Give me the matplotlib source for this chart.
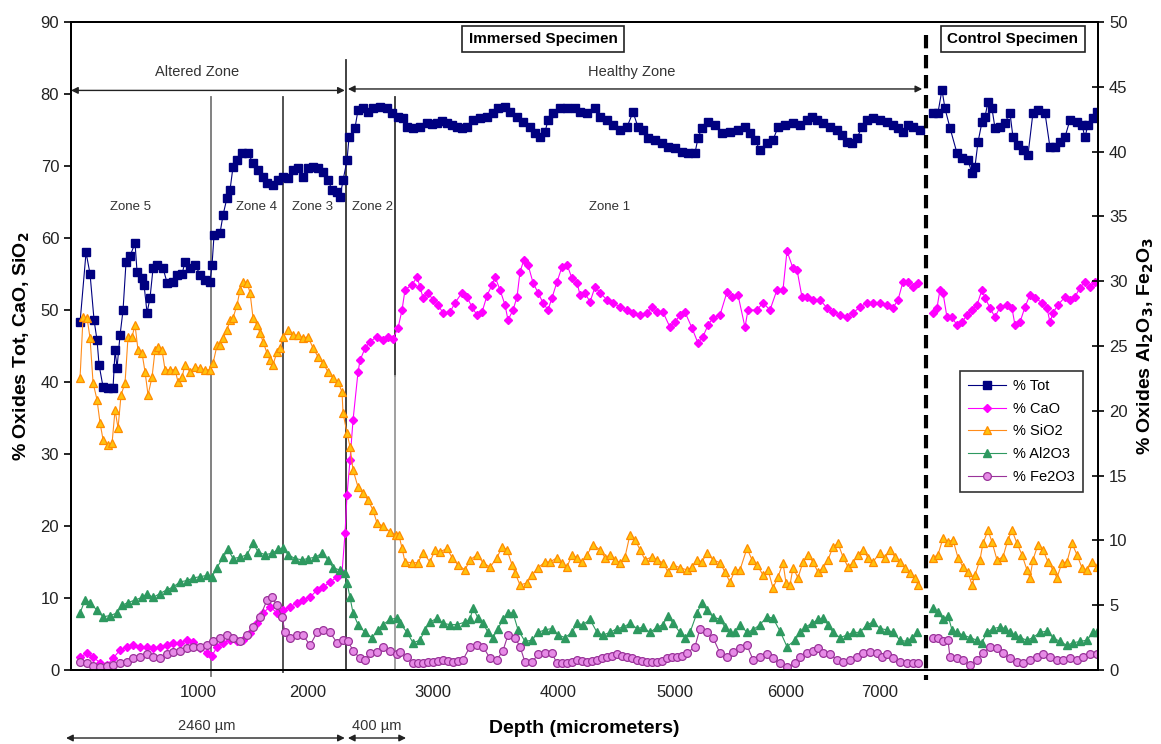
import numpy as np
import matplotlib
matplotlib.use("Agg")
import matplotlib.pyplot as plt

plt.rcParams['font.family'] = ['Liberation Sans', 'DejaVu Sans']

# ---------------- Immersed specimen (depth in micrometres) ----------------
tot_depth = [72, 120, 152, 184, 208, 224, 256, 296, 336, 352, 368, 392, 416, 440, 472, 512, 528, 568, 584, 608,
             632, 656, 688, 736, 768, 816, 848, 888, 912, 952, 992, 1032, 1072, 1112, 1128, 1144, 1192, 1216, 1248, 1272,
             1296, 1328, 1368, 1416, 1456, 1496, 1536, 1568, 1616, 1656, 1696, 1736, 1776, 1816, 1856, 1896, 1936, 1976, 2016, 2056,
             2088, 2128, 2152, 2176, 2208, 2224, 2272, 2296, 2336, 2376, 2416, 2472, 2528, 2568, 2616, 2656, 2688, 2736, 2792, 2848,
             2888, 2928, 2968, 3008, 3048, 3088, 3128, 3168, 3216, 3272, 3328, 3376, 3416, 3472, 3512, 3568, 3616, 3672, 3712, 3752,
             3792, 3816, 3856, 3912, 3968, 4032, 4072, 4128, 4192, 4232, 4288, 4336, 4392, 4448, 4496, 4536, 4576, 4616, 4672, 4728,
             4776, 4832, 4888, 4936, 4992, 5016, 5048, 5096, 5152, 5208, 5272, 5336, 5392, 5432, 5472, 5512, 5568, 5616, 5656, 5712,
             5776, 5832, 5888, 5928, 5968, 6016, 6072, 6128, 6168, 6208, 6248, 6288, 6328, 6368, 6416, 6472, 6528, 6576, 6616, 6656,
             6696, 6736, 6792]
tot_pct = [48.3, 58.0, 55.0, 48.6, 45.8, 42.4, 39.3, 39.2, 39.2, 44.4, 42.0, 46.5, 50.0, 56.7, 57.5, 59.3, 55.3, 54.4, 53.5, 49.6,
           51.7, 55.8, 56.3, 55.8, 53.8, 53.9, 54.9, 55.0, 56.7, 55.8, 56.3, 54.9, 54.2, 53.9, 56.3, 60.4, 60.7, 63.2, 65.6, 66.7,
           69.9, 70.8, 71.8, 71.8, 70.4, 69.4, 68.5, 67.6, 67.4, 68.0, 68.5, 68.3, 69.4, 69.7, 68.5, 69.7, 69.9, 69.7, 69.2, 68.0,
           66.7, 66.4, 65.7, 68.0, 70.8, 74.0, 75.3, 77.8, 78.0, 77.5, 78.0, 78.2, 78.0, 77.4, 76.8, 76.7, 75.4, 75.3, 75.4, 76.0,
           75.8, 76.0, 76.2, 76.0, 75.7, 75.4, 75.3, 75.4, 76.4, 76.7, 76.8, 77.4, 78.0, 78.2, 77.5, 76.8, 76.1, 75.4, 74.6, 74.0,
           74.7, 76.4, 77.4, 78.0, 78.0, 78.0, 77.5, 77.4, 78.0, 76.8, 76.4, 75.7, 75.0, 75.4, 77.5, 75.4, 75.0, 73.9, 73.6, 73.2,
           72.6, 72.5, 71.9, 71.8, 71.8, 73.9, 75.3, 76.1, 75.7, 74.6, 74.7, 75.0, 75.4, 74.6, 73.6, 72.2, 73.2, 73.6, 75.4, 75.7,
           76.0, 75.7, 76.4, 76.8, 76.4, 76.0, 75.4, 75.0, 74.3, 73.3, 73.2, 73.9, 75.4, 76.4, 76.7, 76.4, 76.1, 75.7, 75.3, 74.7,
           75.7, 75.4, 75.0]

cao_depth = [72, 128, 176, 232, 288, 336, 392, 448, 496, 552, 608, 656, 712, 768, 816, 872, 928, 976, 1032, 1088,
             1128, 1168, 1216, 1272, 1328, 1376, 1432, 1488, 1536, 1592, 1648, 1696, 1752, 1808, 1856, 1912, 1968, 2016, 2072, 2128,
             2168, 2192, 2208, 2232, 2256, 2296, 2312, 2352, 2392, 2448, 2496, 2536, 2576, 2616, 2648, 2672, 2728, 2768, 2792, 2816,
             2856, 2896, 2936, 2976, 3032, 3072, 3128, 3168, 3208, 3248, 3288, 3328, 3368, 3392, 3432, 3472, 3496, 3536, 3568, 3592,
             3624, 3656, 3696, 3736, 3776, 3816, 3848, 3888, 3928, 3968, 4008, 4048, 4072, 4112, 4152, 4192, 4232, 4288, 4336, 4392,
             4448, 4496, 4552, 4608, 4648, 4688, 4736, 4792, 4832, 4872, 4912, 4968, 5016, 5056, 5096, 5136, 5192, 5248, 5288, 5336,
             5392, 5416, 5488, 5536, 5592, 5648, 5696, 5728, 5776, 5808, 5848, 5888, 5936, 5992, 6048, 6096, 6152, 6208, 6256, 6312,
             6368, 6416, 6472, 6528, 6576, 6616, 6656, 6696, 6736, 6776]
cao_pct = [1.8, 2.3, 1.8, 1.0, 0.7, 1.6, 2.8, 3.2, 3.5, 3.2, 3.2, 3.0, 3.2, 3.5, 3.7, 3.7, 4.2, 3.9, 3.1, 2.3,
           2.0, 3.2, 3.7, 4.2, 4.0, 4.2, 5.1, 6.5, 7.9, 8.8, 7.9, 8.3, 8.8, 9.3, 9.7, 10.1, 11.1, 11.5, 12.2, 12.9,
           13.5, 19.0, 24.3, 29.2, 34.7, 41.4, 43.0, 44.7, 45.6, 46.3, 45.8, 46.3, 46.0, 47.5, 50.0, 52.8, 53.5, 54.6, 53.2, 51.7,
           52.4, 51.4, 50.7, 49.6, 49.7, 51.0, 52.4, 51.8, 50.4, 49.3, 49.7, 52.0, 53.5, 54.6, 52.8, 50.7, 48.6, 50.0, 51.8, 55.3,
           57.0, 56.3, 53.8, 52.4, 51.0, 50.0, 51.7, 53.9, 56.0, 56.3, 54.4, 53.8, 52.1, 52.4, 51.1, 53.2, 52.4, 51.4, 51.0, 50.4,
           50.0, 49.6, 49.3, 49.6, 50.4, 49.7, 49.7, 47.6, 48.3, 49.3, 49.7, 47.5, 45.4, 46.3, 47.9, 48.9, 49.3, 52.5, 51.8, 52.1,
           47.6, 50.0, 50.0, 51.0, 50.0, 52.8, 52.8, 58.2, 55.8, 55.6, 51.8, 51.8, 51.4, 51.4, 50.3, 49.7, 49.3, 49.0, 49.6, 50.4,
           51.0, 51.0, 51.0, 50.7, 50.3, 51.4, 53.9, 53.9, 53.2, 53.8]

sio2_depth = [72, 96, 128, 152, 176, 208, 232, 256, 296, 328, 352, 376, 400, 432, 456, 488, 512, 536, 568, 592,
              616, 648, 672, 696, 728, 752, 792, 832, 856, 888, 912, 952, 992, 1032, 1072, 1112, 1136, 1168, 1192, 1216,
              1248, 1272, 1296, 1328, 1352, 1376, 1408, 1432, 1456, 1488, 1512, 1536, 1568, 1592, 1616, 1648, 1672, 1696, 1736, 1776,
              1816, 1856, 1896, 1936, 1976, 2016, 2056, 2096, 2136, 2168, 2176, 2208, 2232, 2256, 2296, 2336, 2376, 2416, 2448, 2496,
              2552, 2600, 2624, 2648, 2672, 2728, 2776, 2816, 2872, 2912, 2952, 3008, 3048, 3096, 3152, 3192, 3248, 3296, 3352, 3408,
              3448, 3488, 3528, 3552, 3592, 3648, 3688, 3736, 3792, 3832, 3888, 3928, 3968, 4008, 4048, 4088, 4128, 4176, 4232, 4272,
              4312, 4352, 4392, 4432, 4472, 4512, 4552, 4592, 4648, 4688, 4736, 4776, 4816, 4872, 4928, 4968, 5008, 5048, 5088, 5136,
              5192, 5232, 5272, 5312, 5352, 5408, 5448, 5488, 5536, 5576, 5616, 5656, 5696, 5720, 5752, 5776, 5816, 5856, 5896, 5936,
              5976, 6016, 6056, 6096, 6136, 6176, 6216, 6256, 6296, 6336, 6376, 6416, 6472, 6512, 6552, 6592, 6632, 6672, 6712, 6752,
              6776]
sio2_pct = [40.6, 49.0, 48.9, 46.1, 39.9, 37.5, 34.3, 32.0, 31.3, 31.5, 36.1, 33.6, 38.2, 39.9, 46.3, 46.3, 47.9, 44.4, 44.0, 41.4,
            38.2, 40.7, 44.4, 44.9, 44.4, 41.7, 41.7, 41.7, 40.0, 40.7, 42.4, 41.4, 42.1, 41.9, 41.7, 41.7, 42.6, 45.1, 45.1, 46.1,
            47.2, 48.6, 48.9, 50.7, 52.8, 53.9, 53.8, 52.4, 48.9, 47.9, 46.8, 45.6, 44.0, 43.0, 42.4, 44.2, 44.7, 46.3, 47.2, 46.5,
            46.5, 46.1, 46.3, 44.7, 43.5, 42.6, 41.4, 40.6, 40.0, 38.6, 35.7, 32.9, 31.0, 27.8, 25.4, 24.6, 23.6, 22.2, 20.4, 20.0,
            19.2, 18.8, 18.7, 16.9, 15.0, 14.9, 14.9, 16.3, 15.0, 16.7, 16.4, 16.9, 15.6, 14.6, 13.9, 15.3, 16.0, 14.9, 14.3, 15.6,
            17.1, 16.7, 14.6, 13.5, 11.8, 12.1, 13.2, 14.2, 15.0, 15.0, 15.6, 14.9, 14.3, 16.0, 15.6, 15.0, 16.0, 17.4, 16.7, 15.6,
            16.0, 15.3, 14.9, 15.7, 18.8, 18.1, 16.7, 15.3, 15.7, 15.3, 14.9, 13.6, 14.6, 14.2, 13.9, 14.3, 15.3, 15.0, 16.3, 15.3,
            14.9, 13.6, 12.2, 13.9, 13.9, 16.9, 15.3, 14.6, 13.2, 13.9, 11.4, 12.9, 14.9, 12.1, 11.8, 14.2, 12.8, 15.0, 16.0, 15.0,
            13.6, 14.2, 15.3, 17.1, 17.6, 15.7, 14.3, 14.9, 16.0, 16.7, 15.6, 15.0, 16.3, 15.6, 16.7, 15.7, 15.0, 14.2, 13.5, 12.8,
            11.8]

al2o3_depth = [72, 112, 152, 208, 256, 312, 368, 408, 456, 512, 568, 608, 656, 712, 768, 816, 872, 928, 976, 1032,
               1088, 1128, 1168, 1216, 1256, 1296, 1352, 1408, 1456, 1496, 1552, 1608, 1656, 1696, 1736, 1792, 1848, 1896, 1952, 2008,
               2056, 2096, 2152, 2192, 2208, 2232, 2256, 2296, 2352, 2408, 2456, 2496, 2552, 2608, 2632, 2688, 2736, 2792, 2832, 2872,
               2928, 2976, 3032, 3088, 3152, 3192, 3216, 3256, 3296, 3336, 3376, 3416, 3456, 3496, 3536, 3576, 3632, 3688, 3736, 3792,
               3848, 3896, 3952, 4008, 4048, 4096, 4152, 4208, 4256, 4312, 4368, 4416, 4472, 4528, 4576, 4632, 4688, 4736, 4776, 4816,
               4872, 4912, 4952, 5008, 5048, 5088, 5136, 5192, 5232, 5272, 5312, 5352, 5408, 5456, 5512, 5568, 5616, 5672, 5728, 5792,
               5832, 5872, 5928, 5976, 6016, 6056, 6096, 6152, 6208, 6256, 6312, 6368, 6416, 6472, 6528, 6576, 6632, 6688, 6728, 6768]
al2o3_pct = [4.4, 5.4, 5.2, 4.6, 4.1, 4.2, 4.4, 5.0, 5.2, 5.4, 5.6, 5.9, 5.6, 5.9, 6.2, 6.4, 6.8, 6.9, 7.1, 7.2,
             7.3, 7.2, 7.9, 8.7, 9.3, 8.6, 8.7, 8.9, 9.8, 9.1, 8.9, 9.0, 9.3, 9.4, 8.9, 8.6, 8.5, 8.6, 8.7, 9.0,
             8.5, 7.9, 7.7, 7.5, 6.7, 5.6, 4.4, 3.5, 2.9, 2.5, 3.1, 3.5, 3.9, 4.0, 3.6, 2.9, 2.1, 2.3, 3.1, 3.7,
             4.0, 3.6, 3.5, 3.5, 3.7, 3.9, 4.8, 4.0, 3.6, 2.9, 2.5, 3.2, 3.9, 4.4, 4.4, 3.1, 2.2, 2.3, 2.9, 3.1,
             3.2, 2.7, 2.5, 2.9, 3.6, 3.5, 3.9, 2.9, 2.7, 2.9, 3.2, 3.3, 3.6, 3.2, 3.3, 2.9, 3.3, 3.5, 4.2, 3.6,
             2.9, 2.5, 2.9, 4.4, 5.2, 4.6, 4.1, 3.9, 3.3, 2.9, 2.9, 3.5, 2.9, 3.1, 3.5, 4.1, 4.0, 3.0, 1.8, 2.3,
             2.9, 3.3, 3.6, 3.9, 4.0, 3.5, 2.9, 2.5, 2.7, 2.9, 2.9, 3.5, 3.7, 3.2, 3.1, 2.9, 2.3, 2.2, 2.5, 2.9]

fe2o3_depth = [72, 128, 176, 232, 288, 336, 392, 448, 496, 552, 608, 656, 712, 768, 816, 872, 928, 976, 1032, 1088,
               1136, 1192, 1248, 1296, 1352, 1408, 1456, 1512, 1568, 1608, 1648, 1688, 1712, 1752, 1808, 1856, 1912, 1968, 2016, 2072,
               2128, 2176, 2216, 2256, 2312, 2352, 2392, 2448, 2496, 2552, 2608, 2632, 2688, 2736, 2776, 2816, 2856, 2896, 2936, 2976,
               3016, 3056, 3096, 3136, 3192, 3248, 3296, 3352, 3408, 3456, 3496, 3552, 3592, 3632, 3688, 3736, 3792, 3848, 3888, 3928,
               3968, 4008, 4048, 4088, 4128, 4168, 4208, 4248, 4288, 4328, 4368, 4408, 4448, 4488, 4528, 4568, 4608, 4648, 4688, 4728,
               4768, 4808, 4848, 4888, 4928, 4992, 5032, 5088, 5136, 5192, 5248, 5296, 5352, 5408, 5456, 5512, 5568, 5616, 5672, 5728,
               5792, 5832, 5888, 5936, 5976, 6016, 6072, 6128, 6176, 6232, 6288, 6336, 6392, 6448, 6488, 6528, 6576, 6632, 6688, 6736,
               6776]
fe2o3_pct = [0.6, 0.5, 0.3, 0.2, 0.3, 0.4, 0.5, 0.6, 0.9, 1.0, 1.2, 1.0, 0.9, 1.2, 1.4, 1.5, 1.7, 1.8, 1.8, 1.9,
             2.2, 2.5, 2.7, 2.5, 2.2, 2.7, 3.3, 4.1, 5.4, 5.6, 5.0, 4.1, 2.9, 2.5, 2.7, 2.7, 1.9, 2.9, 3.1, 2.9,
             2.1, 2.3, 2.2, 1.5, 0.9, 0.8, 1.3, 1.4, 1.8, 1.5, 1.2, 1.4, 1.0, 0.5, 0.5, 0.5, 0.6, 0.6, 0.7, 0.8,
             0.7, 0.6, 0.7, 0.8, 1.8, 1.9, 1.8, 0.9, 0.8, 1.5, 2.7, 2.5, 1.8, 0.6, 0.6, 1.2, 1.3, 1.3, 0.5, 0.5,
             0.5, 0.6, 0.8, 0.7, 0.6, 0.7, 0.8, 0.9, 1.0, 1.1, 1.2, 1.1, 1.0, 0.9, 0.8, 0.7, 0.6, 0.6, 0.6, 0.7,
             0.9, 1.0, 1.0, 1.1, 1.3, 1.8, 3.2, 2.9, 2.5, 1.3, 1.0, 1.4, 1.7, 1.9, 0.8, 1.0, 1.2, 0.9, 0.5, 0.2,
             0.5, 1.0, 1.3, 1.5, 1.7, 1.3, 1.2, 0.8, 0.6, 0.8, 1.0, 1.3, 1.4, 1.3, 1.0, 1.2, 0.9, 0.6, 0.5, 0.5,
             0.5]

# ---------------- Control specimen ----------------
ctl_tot_depth = [6896, 6936, 6968, 6992, 7032, 7088, 7128, 7176, 7208, 7232, 7256, 7288, 7312, 7336, 7368, 7392, 7432, 7472, 7512, 7536,
                 7576, 7616, 7656, 7696, 7736, 7792, 7832, 7872, 7912, 7952, 7992, 8048, 8088, 8112, 8136, 8176, 8208]
ctl_tot_pct = [77.4, 77.4, 80.6, 78.0, 75.3, 71.8, 71.1, 70.8, 69.0, 69.9, 73.3, 76.1, 76.8, 78.9, 78.0, 75.3, 75.4, 76.0, 77.4, 74.0,
               72.9, 72.2, 71.5, 77.4, 77.8, 77.4, 72.6, 72.6, 73.3, 74.0, 76.4, 76.1, 75.7, 74.0, 75.7, 76.7, 77.5]

ctl_cao_depth = [6896, 6928, 6952, 6976, 7008, 7048, 7088, 7128, 7168, 7208, 7248, 7288, 7312, 7352, 7392, 7432, 7488, 7528, 7552, 7592,
                 7632, 7672, 7712, 7768, 7808, 7832, 7856, 7896, 7952, 7992, 8032, 8072, 8112, 8152, 8192]
ctl_cao_pct = [49.6, 50.3, 52.8, 52.4, 49.0, 49.0, 47.9, 48.3, 49.3, 50.0, 50.7, 52.8, 51.7, 50.3, 49.0, 50.4, 50.7, 50.3, 47.9, 48.3,
               50.4, 52.1, 51.7, 51.0, 50.3, 48.3, 49.6, 50.7, 51.8, 51.4, 51.8, 53.1, 53.9, 53.2, 53.9]

ctl_sio2_depth = [6896, 6936, 6976, 7016, 7056, 7096, 7136, 7176, 7208, 7232, 7272, 7296, 7336, 7368, 7408, 7456, 7496, 7528, 7568, 7608,
                  7648, 7672, 7696, 7736, 7776, 7816, 7856, 7888, 7928, 7968, 8008, 8048, 8088, 8128, 8168, 8208]
ctl_sio2_pct = [15.6, 16.0, 18.3, 17.8, 18.1, 15.6, 14.3, 13.6, 11.8, 13.2, 15.3, 17.6, 19.4, 17.8, 15.3, 15.7, 18.1, 19.4, 17.6, 16.0,
                13.9, 12.8, 15.3, 17.4, 16.7, 15.0, 13.9, 12.8, 14.9, 15.0, 17.6, 16.0, 14.2, 13.9, 15.0, 14.3]

ctl_al2o3_depth = [6896, 6936, 6976, 7016, 7048, 7088, 7136, 7192, 7248, 7288, 7328, 7376, 7432, 7472, 7512, 7552, 7592, 7648, 7696, 7752,
                   7808, 7856, 7912, 7968, 8016, 8072, 8128, 8176, 8208]
ctl_al2o3_pct = [4.8, 4.5, 3.9, 4.2, 3.1, 2.9, 2.7, 2.5, 2.3, 2.1, 2.9, 3.2, 3.3, 3.2, 2.9, 2.7, 2.5, 2.3, 2.5, 2.9,
                 3.0, 2.5, 2.2, 1.9, 2.1, 2.2, 2.3, 2.9, 2.9]

ctl_fe2o3_depth = [6896, 6936, 6976, 7016, 7032, 7088, 7136, 7192, 7248, 7296, 7352, 7408, 7456, 7512, 7568, 7616, 7672, 7728, 7776, 7832,
                   7888, 7936, 7992, 8048, 8096, 8152, 8208]
ctl_fe2o3_pct = [2.5, 2.5, 2.2, 2.3, 1.0, 0.9, 0.8, 0.4, 0.8, 1.3, 1.8, 1.7, 1.3, 0.9, 0.6, 0.5, 0.8, 1.0, 1.2, 1.0,
                 0.8, 0.8, 0.9, 0.8, 1.0, 1.2, 1.2]

# Axis ticks
depth_tick_pos = [1016, 1896, 2896, 3896, 4832, 5720, 6472]
depth_tick_lbl = ['1000', '2000', '3000', '4000', '5000', '6000', '7000']
left_ticks = list(range(0, 91, 10))
right_ticks = list(range(0, 51, 5))

# Zone boundaries (depth) and labels
zone_bounds = [1120, 1696, 2200, 2592]
zone_names = ['Zone 5', 'Zone 4', 'Zone 3', 'Zone 2', 'Zone 1']
zone_label_x = [472, 1480, 1928, 2408, 4312]
control_start = 6840

styles = {
    'tot': dict(color='#000080', marker='s', ms=6.2, mfc='#000080', mec='#000080', lw=0.8),
    'cao': dict(color='#FF00FF', marker='D', ms=4.2, mfc='#FF00FF', mec='#FF00FF', lw=0.8),
    'sio2': dict(color='#FF8C1A', marker='^', ms=6.3, mfc='#FFC20E', mec='#FF8C00', mew=0.9, lw=0.8),
    'al2o3': dict(color='#2E9960', marker='^', ms=6.3, mfc='#2E9960', mec='#2E9960', lw=0.8),
    'fe2o3': dict(color='#993399', marker='o', ms=5.6, mfc='#E68AE6', mec='#993399', mew=0.9, lw=0.8),
}

fig = plt.figure(figsize=(11.61, 7.44), dpi=100)
ax = fig.add_axes([0.0612, 0.0995, 0.8845, 0.8709])
ax2 = ax.twinx()

h_tot, = ax.plot(tot_depth, tot_pct, label='% Tot', **styles['tot'])
ax.plot(ctl_tot_depth, ctl_tot_pct, **styles['tot'])
h_cao, = ax.plot(cao_depth, cao_pct, label='% CaO', **styles['cao'])
ax.plot(ctl_cao_depth, ctl_cao_pct, **styles['cao'])
h_sio2, = ax.plot(sio2_depth, sio2_pct, label='% SiO2', **styles['sio2'])
ax.plot(ctl_sio2_depth, ctl_sio2_pct, **styles['sio2'])
h_al, = ax2.plot(al2o3_depth, al2o3_pct, label='% Al2O3', **styles['al2o3'])
ax2.plot(ctl_al2o3_depth, ctl_al2o3_pct, **styles['al2o3'])
h_fe, = ax2.plot(fe2o3_depth, fe2o3_pct, label='% Fe2O3', **styles['fe2o3'])
ax2.plot(ctl_fe2o3_depth, ctl_fe2o3_pct, **styles['fe2o3'])

ax.set_xlim(0, 8216)
ax.set_ylim(0, 90)
ax2.set_ylim(0, 50)

ax.set_xticks(depth_tick_pos)
ax.set_xticklabels(depth_tick_lbl)
ax.set_yticks(left_ticks)
ax2.set_yticks(right_ticks)
ax.tick_params(axis='x', length=0, labelsize=12, pad=11, labelcolor='#222222')
ax.tick_params(axis='y', direction='out', length=5, width=1.2, labelsize=12, labelcolor='#222222')
ax2.tick_params(axis='y', direction='inout', length=9, width=1.2, labelsize=12, labelcolor='#222222')
for a in (ax, ax2):
    for s in a.spines.values():
        s.set_linewidth(1.4)

ax.set_xlabel('Depth (micrometers)', fontsize=14, fontweight='bold', labelpad=14)
ax.set_ylabel('% Oxides Tot, CaO, SiO$_\\mathbf{2}$', fontsize=14, fontweight='bold', labelpad=6)
ax2.set_ylabel('% Oxides Al$_\\mathbf{2}$O$_\\mathbf{3}$, Fe$_\\mathbf{2}$O$_\\mathbf{3}$', fontsize=14,
               fontweight='bold', labelpad=6)

# Zone boundary lines
ax.plot([zone_bounds[0]] * 2, [79.6, -0.8], color='#777777', lw=1.3, clip_on=False, zorder=1)
ax.plot([zone_bounds[1]] * 2, [79.6, -0.3], color='#444444', lw=1.3, clip_on=False, zorder=1)
ax.plot([zone_bounds[2]] * 2, [84.7, 0], color='#333333', lw=1.3, clip_on=False, zorder=1)
ax.plot([zone_bounds[3]] * 2, [79.6, 40.8], color='#333333', lw=1.3, clip_on=False, zorder=1)
ax.plot([zone_bounds[3]] * 2, [40.8, 0], color='#999999', lw=1.3, clip_on=False, zorder=1)
ax.plot([control_start] * 2, [88.2, -1.4], color='black', lw=3, ls=(0, (3.2, 1.6)), clip_on=False, zorder=4)

# Zone names
for name, xz in zip(zone_names, zone_label_x):
    ax.text(xz, 64.3, name, ha='center', va='center', fontsize=9.5, color='#333333')

# Altered / healthy zone arrows
arrow_kw = dict(arrowstyle='<|-|>', color='#222222', lw=1.0, mutation_scale=10, shrinkA=0, shrinkB=0)
ax.annotate('', xy=(0, 80.5), xytext=(2190, 80.5), arrowprops=arrow_kw, annotation_clip=False)
ax.annotate('', xy=(2215, 80.7), xytext=(6810, 80.7), arrowprops=arrow_kw, annotation_clip=False)
ax.text(1008, 83.1, 'Altered Zone', ha='center', va='center', fontsize=10.5, color='#333333')
ax.text(4488, 83.1, 'Healthy Zone', ha='center', va='center', fontsize=10.5, color='#333333')

# Depth extent arrows below the axis
ax.annotate('', xy=(-40, -9.45), xytext=(2190, -9.45), arrowprops=arrow_kw, annotation_clip=False)
ax.annotate('', xy=(2215, -9.45), xytext=(2680, -9.45), arrowprops=arrow_kw, annotation_clip=False)
ax.text(1088, -7.8, '2460 µm', ha='center', va='center', fontsize=10.5, color='#333333', clip_on=False)
ax.text(2448, -7.8, '400 µm', ha='center', va='center', fontsize=10.5, color='#333333', clip_on=False)

# Specimen boxes
box = dict(boxstyle='square,pad=0.4', fc='white', ec='#222222', lw=1.2)
ax.text(3776, 87.6, 'Immersed Specimen', ha='center', va='center', fontsize=11, fontweight='bold', bbox=box)
ax.text(7536, 87.6, 'Control Specimen', ha='center', va='center', fontsize=11, fontweight='bold', bbox=box)

leg = ax2.legend(handles=[h_tot, h_cao, h_sio2, h_al, h_fe], loc='lower left',
                 bbox_to_anchor=(0.8656, 0.2747), frameon=True, fancybox=False, fontsize=10.5,
                 handlelength=2.6, borderpad=0.55, labelspacing=0.6, handletextpad=0.5, borderaxespad=0)
leg.get_frame().set_edgecolor('black')
leg.get_frame().set_linewidth(1.2)

fig.savefig('out.png', dpi=100)
